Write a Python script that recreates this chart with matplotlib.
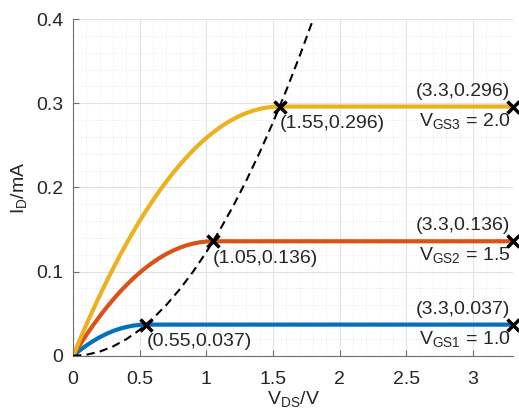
import matplotlib.pyplot as plt
from matplotlib.ticker import MultipleLocator, FuncFormatter

# drain current curves (V_DS in V, I_D in mA)
vds_1 = [0, 0.05, 0.1, 0.15, 0.2, 0.25, 0.3, 0.35, 0.4, 0.45, 0.5, 0.55, 3.3]
id_1 = [0, 0.0064, 0.0122, 0.0174, 0.0220, 0.0260, 0.0294, 0.0321, 0.0342,
        0.0358, 0.0367, 0.037, 0.037]

vds_2 = [0, 0.05, 0.1, 0.15, 0.2, 0.25, 0.3, 0.35, 0.4, 0.45, 0.5, 0.55,
         0.6, 0.65, 0.7, 0.75, 0.8, 0.85, 0.9, 0.95, 1.0, 1.05, 3.3]
id_2 = [0, 0.0126, 0.0247, 0.0361, 0.0469, 0.0571, 0.0666, 0.0756, 0.0839,
        0.0916, 0.0987, 0.1052, 0.1110, 0.1163, 0.1209, 0.1249, 0.1283,
        0.1311, 0.1332, 0.1348, 0.1357, 0.136, 0.136]

vds_3 = [0, 0.05, 0.1, 0.15, 0.2, 0.25, 0.3, 0.35, 0.4, 0.45, 0.5, 0.55,
         0.6, 0.65, 0.7, 0.75, 0.8, 0.85, 0.9, 0.95, 1.0, 1.05, 1.1, 1.15,
         1.2, 1.25, 1.3, 1.35, 1.4, 1.45, 1.5, 1.55, 3.3]
id_3 = [0, 0.0188, 0.0370, 0.0545, 0.0715, 0.0878, 0.1035, 0.1186, 0.1331,
        0.1469, 0.1602, 0.1728, 0.1848, 0.1962, 0.2070, 0.2172, 0.2267,
        0.2356, 0.2440, 0.2517, 0.2587, 0.2652, 0.2711, 0.2763, 0.2809,
        0.2849, 0.2883, 0.2911, 0.2932, 0.2948, 0.2957, 0.296, 0.296]

# saturation boundary (dashed)
vds_sat = [0, 0.1, 0.2, 0.3, 0.4, 0.5, 0.6, 0.7, 0.8, 0.9, 1.0, 1.1, 1.2,
           1.3, 1.4, 1.5, 1.6, 1.7, 1.8, 1.85]
id_sat = [0, 0.0012, 0.0049, 0.0111, 0.0197, 0.0308, 0.0444, 0.0604, 0.0789,
          0.0998, 0.1232, 0.1491, 0.1774, 0.2082, 0.2415, 0.2772, 0.3154,
          0.3561, 0.3992, 0.4217]

# marked points and labels
knee_x = [0.55, 1.05, 1.55]
knee_y = [0.037, 0.136, 0.296]
end_x = [3.3, 3.3, 3.3]
end_y = [0.037, 0.136, 0.296]
vgs_labels = ["$\\mathregular{V_{GS1}}$ = 1.0",
              "$\\mathregular{V_{GS2}}$ = 1.5",
              "$\\mathregular{V_{GS3}}$ = 2.0"]

colors = ["#0072BD", "#D95319", "#EDB120"]
text_color = "#262626"

plt.rcParams["font.family"] = ["Liberation Sans", "DejaVu Sans"]
plt.rcParams["font.size"] = 14

fig = plt.figure(figsize=(5.19, 4.08), dpi=100)
ax = fig.add_axes([0.1407, 0.128, 0.8477, 0.8254])

ax.plot(vds_sat, id_sat, color="black", lw=1.5, ls=(0, (4, 2.5)), zorder=3)
for xs, ys, c in zip([vds_1, vds_2, vds_3], [id_1, id_2, id_3], colors):
    ax.plot(xs, ys, color=c, lw=3, solid_capstyle="butt", zorder=2)

ax.plot(knee_x + end_x, knee_y + end_y, ls="none", marker="x", ms=9,
        mew=2.5, color="black", zorder=4, clip_on=False)

for x, y in zip(knee_x, knee_y):
    ax.annotate("(%g,%g)" % (x, y), (x, y), xytext=(0, -6),
                textcoords="offset points", ha="left", va="top",
                color=text_color)
for x, y, lab in zip(end_x, end_y, vgs_labels):
    ax.annotate("(%g,%g)" % (x, y), (x, y), xytext=(-2, 5),
                textcoords="offset points", ha="right", va="bottom",
                color=text_color)
    ax.annotate(lab, (x, y), xytext=(-2, -3),
                textcoords="offset points", ha="right", va="top",
                color=text_color)

ax.set_xlim(0, 3.3)
ax.set_ylim(0, 0.4)
ax.xaxis.set_major_locator(MultipleLocator(0.5))
ax.xaxis.set_minor_locator(MultipleLocator(0.1))
ax.yaxis.set_major_locator(MultipleLocator(0.1))
ax.yaxis.set_minor_locator(MultipleLocator(0.02))
ax.xaxis.set_major_formatter(FuncFormatter(lambda v, p: "%g" % v))
ax.yaxis.set_major_formatter(FuncFormatter(lambda v, p: "%g" % v))

ax.grid(True, which="major", color="#e3e3e3", lw=0.8)
ax.grid(True, which="minor", color="#e3e3e3", lw=0.6, ls=(0, (1, 2)))
ax.set_axisbelow(True)

for side in ["top", "right"]:
    ax.spines[side].set_visible(False)
for side in ["left", "bottom"]:
    ax.spines[side].set_color("#6e6e6e")
ax.tick_params(which="major", direction="in", length=4, color="#6e6e6e",
               labelcolor=text_color)
ax.tick_params(axis="x", pad=11)
ax.tick_params(axis="y", pad=7)
ax.tick_params(which="minor", length=0)

ax.set_xlabel("$\\mathregular{V_{DS}}$/V", color=text_color, labelpad=1)
ax.set_ylabel("$\\mathregular{I_D}$/mA", color=text_color, labelpad=5)

fig.savefig("out.png", dpi=100)
